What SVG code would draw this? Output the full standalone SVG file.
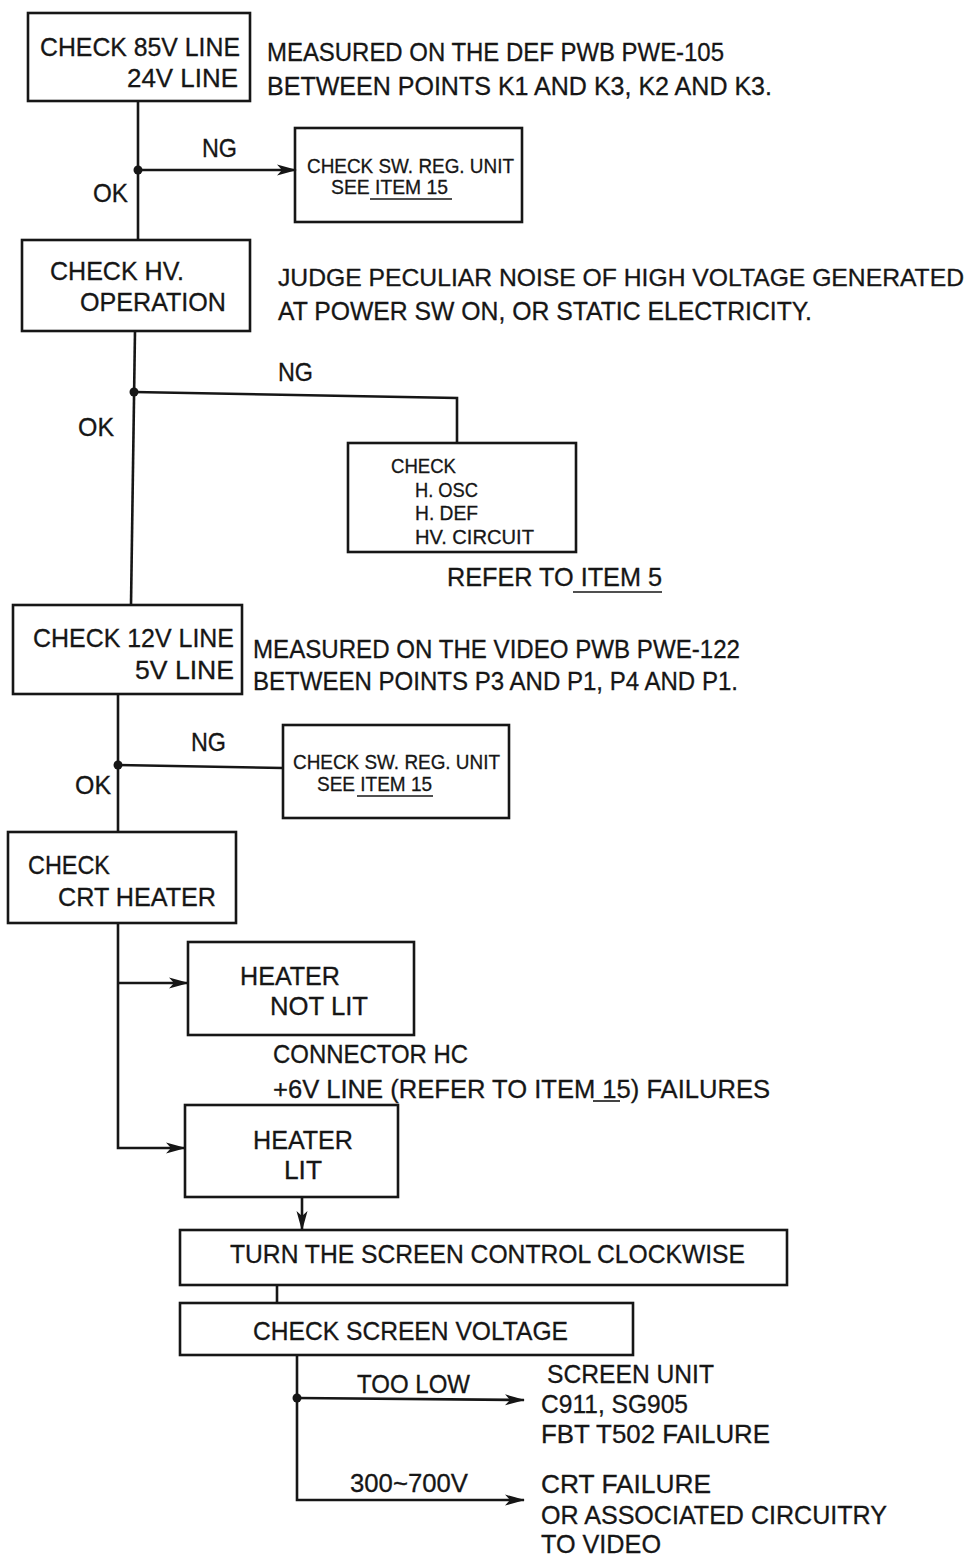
<svg xmlns="http://www.w3.org/2000/svg" width="977" height="1557" viewBox="0 0 977 1557">
<style>
.box{fill:none;stroke:#161616;stroke-width:2.6}
.ln{fill:none;stroke:#161616;stroke-width:2.6}
.ul{fill:none;stroke:#161616;stroke-width:1.6}
text{font-family:"Liberation Sans",Arial,sans-serif;fill:#161616;stroke:#161616;stroke-width:0.3}
.L{font-size:26px}
.M{font-size:25px}
.S{font-size:21px}
</style>
<defs>
<marker id="ah" viewBox="0 0 20 14" refX="19" refY="7" markerWidth="20" markerHeight="14" markerUnits="userSpaceOnUse" orient="auto">
<path d="M0,1.5 L20,7 L0,12.5 L5,7 Z" fill="#161616"/>
</marker>
</defs>
<rect width="977" height="1557" fill="#ffffff"/>

<g id="connectors">
<path class="ln" d="M138,101 V240"/>
<path class="ln" d="M138,170 H296" marker-end="url(#ah)"/>
<circle cx="138" cy="170" r="4.5" fill="#161616"/>
<path class="ln" d="M135,331 L131,605"/>
<path class="ln" d="M134,392 L457,398 V443"/>
<circle cx="134" cy="392" r="4.5" fill="#161616"/>
<path class="ln" d="M118,694 V832"/>
<path class="ln" d="M118,765 L283,768"/>
<circle cx="118" cy="765" r="4.5" fill="#161616"/>
<path class="ln" d="M118,923 V1148 H185" marker-end="url(#ah)"/>
<path class="ln" d="M118,983 H188" marker-end="url(#ah)"/>
<path class="ln" d="M302,1197 V1230" marker-end="url(#ah)"/>
<path class="ln" d="M277,1285 V1303"/>
<path class="ln" d="M297,1355 V1500 H524" marker-end="url(#ah)"/>
<path class="ln" d="M297,1398 L524,1400" marker-end="url(#ah)"/>
<circle cx="297" cy="1398" r="4.5" fill="#161616"/>
</g>

<g id="labels">
<text class="M" x="202" y="157" textLength="35" lengthAdjust="spacingAndGlyphs">NG</text>
<text class="M" x="93" y="202" textLength="35" lengthAdjust="spacingAndGlyphs">OK</text>
<text class="M" x="278" y="381" textLength="35" lengthAdjust="spacingAndGlyphs">NG</text>
<text class="M" x="78" y="436" textLength="36" lengthAdjust="spacingAndGlyphs">OK</text>
<text class="M" x="191" y="751" textLength="35" lengthAdjust="spacingAndGlyphs">NG</text>
<text class="M" x="75" y="794" textLength="36" lengthAdjust="spacingAndGlyphs">OK</text>
<text class="M" x="357" y="1393" textLength="113" lengthAdjust="spacingAndGlyphs">TOO LOW</text>
<text class="M" x="350" y="1492" textLength="118" lengthAdjust="spacingAndGlyphs">300~700V</text>
</g>

<g id="n1">
<rect class="box" x="28" y="13" width="222" height="88"/>
<text class="L" x="40" y="56" textLength="200" lengthAdjust="spacingAndGlyphs">CHECK 85V LINE</text>
<text class="L" x="127" y="87" textLength="111" lengthAdjust="spacingAndGlyphs">24V LINE</text>
</g>
<g id="note1">
<text class="L" x="267" y="61" textLength="457" lengthAdjust="spacingAndGlyphs">MEASURED ON THE DEF PWB PWE-105</text>
<text class="L" x="267" y="95" textLength="505" lengthAdjust="spacingAndGlyphs">BETWEEN POINTS K1 AND K3, K2 AND K3.</text>
</g>

<g id="n2">
<rect class="box" x="295" y="128" width="227" height="94"/>
<text class="S" x="307" y="173" textLength="207" lengthAdjust="spacingAndGlyphs">CHECK SW. REG. UNIT</text>
<text class="S" x="331" y="194" textLength="117" lengthAdjust="spacingAndGlyphs">SEE ITEM 15</text>
<path class="ul" d="M370,199 H452"/>
</g>

<g id="n3">
<rect class="box" x="22" y="240" width="228" height="91"/>
<text class="L" x="50" y="280" textLength="134" lengthAdjust="spacingAndGlyphs">CHECK HV.</text>
<text class="L" x="80" y="311" textLength="146" lengthAdjust="spacingAndGlyphs">OPERATION</text>
</g>
<g id="note2">
<text x="278" y="286" font-size="24" textLength="686" lengthAdjust="spacingAndGlyphs">JUDGE PECULIAR NOISE OF HIGH VOLTAGE GENERATED</text>
<text class="L" x="278" y="320" textLength="534" lengthAdjust="spacingAndGlyphs">AT POWER SW ON, OR STATIC ELECTRICITY.</text>
</g>

<g id="n4">
<rect class="box" x="348" y="443" width="228" height="109"/>
<text class="S" x="391" y="473" textLength="65" lengthAdjust="spacingAndGlyphs">CHECK</text>
<text class="S" x="415" y="497" textLength="63" lengthAdjust="spacingAndGlyphs">H. OSC</text>
<text class="S" x="415" y="520" textLength="63" lengthAdjust="spacingAndGlyphs">H. DEF</text>
<text class="S" x="415" y="544" textLength="119" lengthAdjust="spacingAndGlyphs">HV. CIRCUIT</text>
</g>
<g id="note3">
<text class="M" x="447" y="586" textLength="215" lengthAdjust="spacingAndGlyphs">REFER TO ITEM 5</text>
<path class="ul" d="M573,592 H662"/>
</g>

<g id="n5">
<rect class="box" x="13" y="605" width="229" height="89"/>
<text class="L" x="33" y="647" textLength="201" lengthAdjust="spacingAndGlyphs">CHECK 12V LINE</text>
<text class="L" x="135" y="679" textLength="99" lengthAdjust="spacingAndGlyphs">5V LINE</text>
</g>
<g id="note4">
<text class="L" x="253" y="658" textLength="487" lengthAdjust="spacingAndGlyphs">MEASURED ON THE VIDEO PWB PWE-122</text>
<text class="L" x="253" y="690" textLength="485" lengthAdjust="spacingAndGlyphs">BETWEEN POINTS P3 AND P1, P4 AND P1.</text>
</g>

<g id="n6">
<rect class="box" x="283" y="725" width="226" height="93"/>
<text class="S" x="293" y="769" textLength="207" lengthAdjust="spacingAndGlyphs">CHECK SW. REG. UNIT</text>
<text class="S" x="317" y="791" textLength="115" lengthAdjust="spacingAndGlyphs">SEE ITEM 15</text>
<path class="ul" d="M357,796 H433"/>
</g>

<g id="n7">
<rect class="box" x="8" y="832" width="228" height="91"/>
<text class="L" x="28" y="874" textLength="82" lengthAdjust="spacingAndGlyphs">CHECK</text>
<text class="L" x="58" y="906" textLength="158" lengthAdjust="spacingAndGlyphs">CRT HEATER</text>
</g>

<g id="n8">
<rect class="box" x="188" y="942" width="226" height="93"/>
<text class="L" x="240" y="985" textLength="100" lengthAdjust="spacingAndGlyphs">HEATER</text>
<text class="L" x="270" y="1015" textLength="98" lengthAdjust="spacingAndGlyphs">NOT LIT</text>
</g>
<g id="note5">
<text class="L" x="273" y="1063" textLength="195" lengthAdjust="spacingAndGlyphs">CONNECTOR HC</text>
<text class="L" x="273" y="1098" textLength="497" lengthAdjust="spacingAndGlyphs">+6V LINE (REFER TO ITEM 15) FAILURES</text>
<path class="ul" d="M593,1101 H620"/>
</g>

<g id="n9">
<rect class="box" x="185" y="1105" width="213" height="92"/>
<text class="L" x="253" y="1149" textLength="100" lengthAdjust="spacingAndGlyphs">HEATER</text>
<text class="L" x="284" y="1179" textLength="38" lengthAdjust="spacingAndGlyphs">LIT</text>
</g>

<g id="n10">
<rect class="box" x="180" y="1230" width="607" height="55"/>
<text class="L" x="230" y="1263" textLength="515" lengthAdjust="spacingAndGlyphs">TURN THE SCREEN CONTROL  CLOCKWISE</text>
</g>

<g id="n11">
<rect class="box" x="180" y="1303" width="453" height="52"/>
<text class="L" x="253" y="1340" textLength="315" lengthAdjust="spacingAndGlyphs">CHECK SCREEN VOLTAGE</text>
</g>

<g id="result1">
<text class="L" x="547" y="1383" textLength="167" lengthAdjust="spacingAndGlyphs">SCREEN UNIT</text>
<text class="L" x="541" y="1413" textLength="147" lengthAdjust="spacingAndGlyphs">C911, SG905</text>
<text class="L" x="541" y="1443" textLength="229" lengthAdjust="spacingAndGlyphs">FBT T502 FAILURE</text>
</g>
<g id="result2">
<text class="L" x="541" y="1493" textLength="170" lengthAdjust="spacingAndGlyphs">CRT FAILURE</text>
<text class="L" x="541" y="1524" textLength="346" lengthAdjust="spacingAndGlyphs">OR ASSOCIATED CIRCUITRY</text>
<text class="L" x="541" y="1553" textLength="120" lengthAdjust="spacingAndGlyphs">TO VIDEO</text>
</g>
</svg>
